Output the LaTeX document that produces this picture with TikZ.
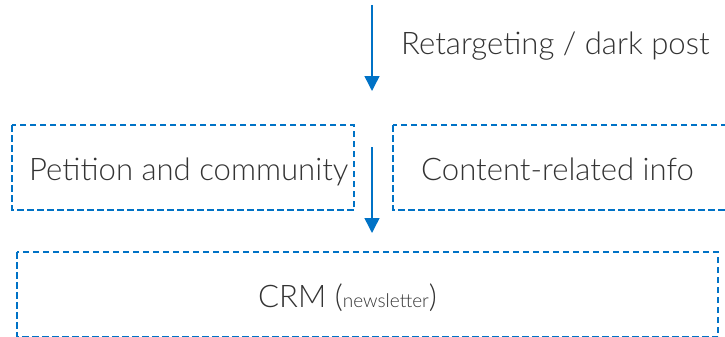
\documentclass[tikz,border=0pt]{standalone}
\usepackage{fontspec}
\setmainfont{Lato}[UprightFont=* Light]
\usepackage{tikz}
\usetikzlibrary{arrows.meta}
\definecolor{flowblue}{RGB}{0,114,198}
\definecolor{inkgrey}{RGB}{51,51,51}
\tikzset{
  dashbox/.style={draw=flowblue, line width=2.6pt, dash pattern=on 6.5pt off 3.5pt},
  flowarrow/.style={draw=flowblue, line width=1.5pt, -{Triangle[width=15pt,length=15pt]}},
  lbl/.style={anchor=base west, inner sep=0pt, text=inkgrey, font=\fontsize{31.1}{36}\selectfont}
}

\begin{document}
\begin{tikzpicture}[x=1pt,y=-1pt]
        \useasboundingbox (0,0) rectangle (725,337);

        % boxes
        \draw[dashbox] (12,125) rectangle (354,210);
        \draw[dashbox] (393,125) rectangle (790,210);
        \draw[dashbox] (17,252) rectangle (718,337);

        % labels
        \node[lbl] (ret) at (401,55) {Retargeting / dark post};
        \node[lbl] (petition) at (29,180) {Petition and community};
        \node[lbl] (content) at (421,180) {Content-related info};
        \node[lbl] (crm) at (258,307) {CRM (\fontsize{19}{22}\selectfont newsletter\fontsize{31.1}{36}\selectfont)};

        % arrows
        \coordinate (topstart) at (372,5);
        \coordinate (topend) at (372,91);
        \coordinate (midstart) at (372,147);
        \coordinate (midend) at (372,233);
        \draw[flowarrow] (topstart) -- (topend);
        \draw[flowarrow] (midstart) -- (midend);

    \end{tikzpicture}
\end{document}
